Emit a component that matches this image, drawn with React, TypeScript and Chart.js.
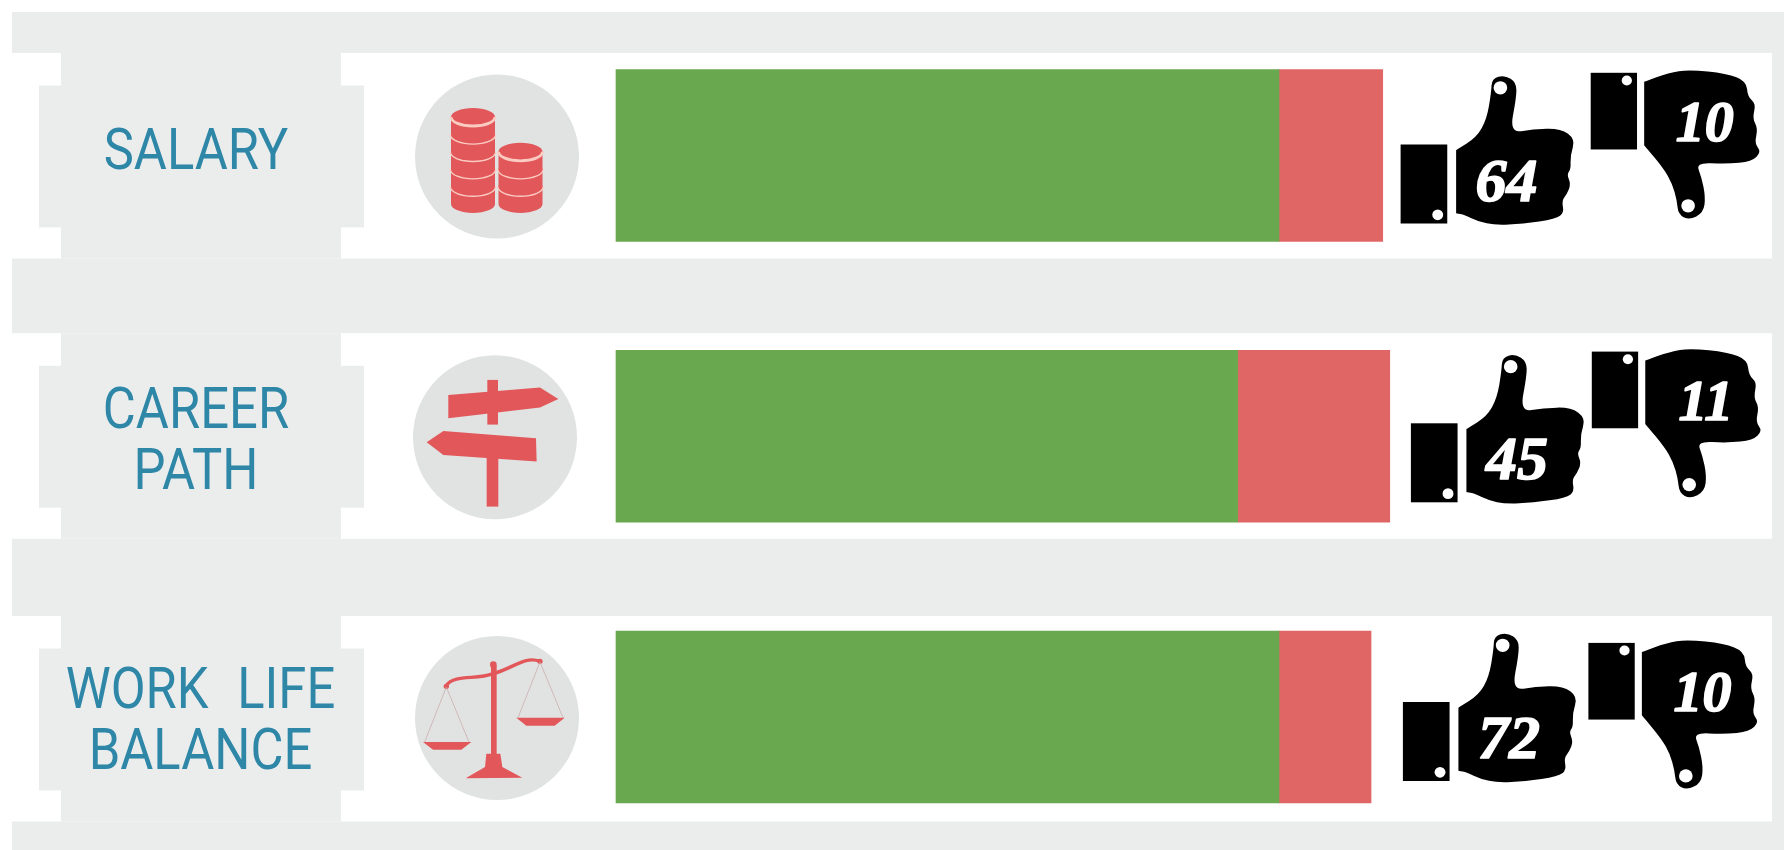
import React, { useEffect, useRef } from "react";
import { Chart, registerables } from "chart.js";

Chart.register(...registerables);

const categories: (string | string[])[] = ["SALARY", ["CAREER", "PATH"], ["WORK LIFE", "BALANCE"]];
const positiveShare = [85.0, 79.7, 85.0];
const negativeShare = [13.3, 19.5, 11.8];
const thumbsUpCounts = ["64", "45", "72"];
const thumbsDownCounts = ["10", "11", "10"];

const GREEN = "#6aa84f";
const RED = "#e06666";
const ICON_RED = "#e2585a";
const PAGE_GREY = "#ebeded";
const CIRCLE_GREY = "#e1e3e3";
const TEAL = "#2f87a8";

const thumbUpAnchors = [[1400.6, 144.5], [1410.9, 423.3], [1402.9, 702]];
const thumbDownAnchors = [[1590.7, 72.8], [1591.8, 351.6], [1588.4, 642.9]];
const iconCentreX = [497, 495, 497];
const bandShift = [0, -0.5, 1.5];
const labelShiftX = [0, 0, 5];
const labelShiftY = [-1, 8, 7];
const labelSqueeze = 0.89;
const labelCentreX = 196;

type Ctx = CanvasRenderingContext2D;

function poly(ctx: Ctx, pts: number[][]) {
  ctx.beginPath();
  pts.forEach(([x, y], i) => (i ? ctx.lineTo(x, y) : ctx.moveTo(x, y)));
  ctx.closePath();
  ctx.fill();
}

function smooth(ctx: Ctx, pts: number[][]) {
  ctx.beginPath();
  const n = pts.length;
  ctx.moveTo((pts[n - 1][0] + pts[0][0]) / 2, (pts[n - 1][1] + pts[0][1]) / 2);
  for (let i = 0; i < n; i++) {
    const next = pts[(i + 1) % n];
    ctx.quadraticCurveTo(pts[i][0], pts[i][1], (pts[i][0] + next[0]) / 2, (pts[i][1] + next[1]) / 2);
  }
  ctx.closePath();
  ctx.fill();
}

function disc(ctx: Ctx, x: number, y: number, r: number) {
  ctx.beginPath();
  ctx.arc(x, y, r, 0, Math.PI * 2);
  ctx.fill();
}

function drawCoinStack(ctx: Ctx, cx: number, bottom: number, count: number) {
  const rx = 22, ry = 9, t = 17.4;
  for (let i = 0; i < count; i++) {
    const base = bottom - ry - i * t;
    ctx.fillStyle = ICON_RED;
    ctx.beginPath();
    ctx.ellipse(cx, base, rx, ry, 0, 0, Math.PI);
    ctx.lineTo(cx - rx, base - t);
    ctx.lineTo(cx + rx, base - t);
    ctx.closePath();
    ctx.fill();
    ctx.beginPath();
    ctx.ellipse(cx, base - t, rx, ry, 0, 0, Math.PI * 2);
    ctx.fill();
    ctx.strokeStyle = "#fbcbc2";
    ctx.lineWidth = 2.8;
    ctx.beginPath();
    ctx.ellipse(cx, base - t, rx, ry, 0, 0, Math.PI);
    ctx.stroke();
  }
}

function drawCoins(ctx: Ctx, cx: number, cy: number) {
  ctx.save();
  ctx.translate(cx - 497, cy - 155.5);
  drawCoinStack(ctx, 473, 213, 5);
  drawCoinStack(ctx, 520.5, 213, 3);
  ctx.restore();
}

function drawSign(ctx: Ctx, cx: number, cy: number) {
  ctx.save();
  ctx.translate(cx, cy);
  ctx.scale(1 / 3, 1 / 3);
  ctx.translate(-345, -290);
  ctx.fillStyle = ICON_RED;
  ctx.fillRect(322, 115, 32, 134);
  ctx.fillRect(320, 345, 35, 150);
  poly(ctx, [[205, 160], [480, 138], [535, 172], [480, 198], [205, 230]]);
  poly(ctx, [[140, 302], [190, 268], [468, 290], [470, 360], [190, 340]]);
  ctx.restore();
}

function drawBalance(ctx: Ctx, cx: number, cy: number) {
  ctx.save();
  ctx.translate(cx, cy);
  ctx.scale(1 / 3, 1 / 3);
  ctx.translate(-352, -1130);
  ctx.fillStyle = ICON_RED;
  ctx.strokeStyle = ICON_RED;
  ctx.fillRect(334, 975, 17, 270);
  disc(ctx, 341, 973, 10);
  ctx.lineWidth = 10;
  ctx.beginPath();
  ctx.moveTo(199, 1036);
  ctx.bezierCurveTo(225, 1000, 290, 1020, 340, 1000);
  ctx.bezierCurveTo(400, 985, 435, 945, 481, 963);
  ctx.stroke();
  disc(ctx, 200, 1038, 8);
  disc(ctx, 481, 963, 8);
  ctx.lineWidth = 2;
  ctx.strokeStyle = "#c9a3a3";
  ctx.beginPath();
  ctx.moveTo(135, 1205); ctx.lineTo(200, 1040); ctx.lineTo(268, 1205);
  ctx.moveTo(415, 1132); ctx.lineTo(481, 965); ctx.lineTo(550, 1132);
  ctx.stroke();
  ctx.fillStyle = ICON_RED;
  poly(ctx, [[130, 1205], [275, 1205], [245, 1228], [160, 1228]]);
  poly(ctx, [[410, 1132], [555, 1132], [525, 1156], [440, 1156]]);
  poly(ctx, [[320, 1240], [362, 1240], [368, 1280], [428, 1312], [258, 1314], [316, 1280]]);
  ctx.restore();
}

function countText(ctx: Ctx, text: string, x: number, y: number, size: number) {
  ctx.fillStyle = "#fff";
  ctx.strokeStyle = "#fff";
  ctx.lineWidth = 1.6;
  ctx.lineJoin = "round";
  ctx.font = `italic bold ${size}px "Liberation Serif"`;
  ctx.textAlign = "center";
  ctx.textBaseline = "middle";
  ctx.strokeText(text, x, y);
  ctx.fillText(text, x, y);
}

function drawThumbUp(ctx: Ctx, x: number, y: number, count: string) {
  ctx.save();
  ctx.translate(x, y);
  ctx.scale(1 / 2.936, 1 / 3);
  ctx.translate(-442, -316);
  ctx.fillStyle = "#000";
  ctx.fillRect(442, 316, 137, 237);
  smooth(ctx, [[605, 333], [605, 333], [665, 295], [695, 240], [708, 160], [710, 118], [748, 108], [782, 130], [782, 175], [762, 282], [830, 270], [912, 268], [955, 300], [940, 350], [942, 390], [930, 405], [942, 435], [930, 465], [915, 485], [922, 520], [898, 540], [800, 554], [720, 558], [670, 547], [630, 527], [605, 522], [605, 522]]);
  ctx.fillStyle = "#fff";
  ctx.beginPath(); ctx.ellipse(735, 146, 20, 20, 0, 0, Math.PI * 2); ctx.fill();
  ctx.beginPath(); ctx.ellipse(551, 527, 16, 16, 0, 0, Math.PI * 2); ctx.fill();
  ctx.restore();
  countText(ctx, count, x + 106, y + 40, 62);
}

function drawThumbDown(ctx: Ctx, x: number, y: number, count: string) {
  ctx.save();
  ctx.translate(x, y);
  ctx.scale(1 / 2.936, 1 / 3);
  ctx.translate(-1001, -98);
  ctx.fillStyle = "#000";
  ctx.fillRect(1001, 98, 136, 230);
  smooth(ctx, [[1158, 125], [1158, 125], [1230, 98], [1290, 88], [1400, 100], [1458, 123], [1462, 170], [1486, 190], [1476, 235], [1492, 265], [1482, 310], [1502, 335], [1474, 364], [1400, 372], [1310, 367], [1326, 410], [1338, 470], [1332, 518], [1290, 540], [1258, 522], [1254, 480], [1240, 430], [1215, 385], [1158, 315], [1158, 315]]);
  ctx.fillStyle = "#fff";
  ctx.beginPath(); ctx.ellipse(1287, 497, 20, 20, 0, 0, Math.PI * 2); ctx.fill();
  ctx.beginPath(); ctx.ellipse(1107, 121, 15, 15, 0, 0, Math.PI * 2); ctx.fill();
  ctx.restore();
  countText(ctx, count, x + 114, y + 53, 58);
}

const backdropPlugin = {
  id: "backdrop",
  beforeDraw(chart: any) {
    const ctx: Ctx = chart.ctx;
    const yScale = chart.scales.y;
    ctx.save();
    ctx.fillStyle = "#fff";
    ctx.fillRect(0, 0, chart.width, chart.height);
    ctx.fillStyle = PAGE_GREY;
    ctx.fillRect(12, 12, chart.width - 12, chart.height - 12);
    categories.forEach((_, i) => {
      const cy = yScale.getPixelForValue(i);
      const by = cy + bandShift[i];
      ctx.fillStyle = "#fff";
      ctx.fillRect(12, by - 102.5, 1760, 205.5);
      ctx.fillStyle = PAGE_GREY;
      ctx.fillRect(61, by - 102.5, 280, 205.5);
      ctx.fillRect(39, by - 70, 325, 142);
      ctx.fillStyle = CIRCLE_GREY;
      disc(ctx, iconCentreX[i], cy + 1, 82);
    });
    drawCoins(ctx, iconCentreX[0], yScale.getPixelForValue(0));
    drawSign(ctx, iconCentreX[1], yScale.getPixelForValue(1) + 2);
    drawBalance(ctx, iconCentreX[2], yScale.getPixelForValue(2));
    ctx.restore();
  },
  afterDatasetsDraw(chart: any) {
    const ctx: Ctx = chart.ctx;
    ctx.save();
    thumbUpAnchors.forEach(([x, y], i) => drawThumbUp(ctx, x, y, thumbsUpCounts[i]));
    thumbDownAnchors.forEach(([x, y], i) => drawThumbDown(ctx, x, y, thumbsDownCounts[i]));
    ctx.restore();
  },
};

export default function App() {
  const ref = useRef<HTMLCanvasElement>(null);
  useEffect(() => {
    document.body.style.margin = "0";
    const chart = new Chart(ref.current!, {
      type: "bar",
      data: {
        labels: categories as any,
        datasets: [
          { label: "Positive", data: positiveShare, backgroundColor: GREEN, borderWidth: 0, barThickness: 172, clip: false } as any,
          { label: "Negative", data: negativeShare, backgroundColor: RED, borderWidth: 0, barThickness: 172, clip: false } as any,
        ],
      },
      options: {
        indexAxis: "y",
        responsive: false,
        animation: false,
        layout: { padding: { left: 0, right: 388, top: 155.5, bottom: 133 } },
        plugins: { legend: { display: false }, tooltip: { enabled: false } },
        scales: {
          x: { type: "linear", stacked: true, display: false, min: 0, max: 100 },
          y: {
            type: "category",
            stacked: true,
            offset: false,
            grid: { display: false, drawTicks: false },
            border: { display: false },
            afterFit(scale: any) {
              scale.width = 616;
              scale.paddingTop = 0;
              scale.paddingBottom = 0;
              if (scale.__wrapped) return;
              scale.__wrapped = true;
              const base = scale.drawLabels;
              scale.drawLabels = function (area: any) {
                const ctx: Ctx = this.ctx;
                const items = this.getLabelItems(area);
                const centre = items[0].options.translation[0];
                items.forEach((item: any, i: number) => {
                  item.options.translation[0] = centre + labelShiftX[i];
                  item.options.translation[1] = this.getPixelForTick(i) + labelShiftY[i];
                });
                ctx.save();
                (ctx as any).wordSpacing = "18px";
                ctx.translate(labelCentreX, 0);
                ctx.scale(labelSqueeze, 1);
                ctx.translate(-centre, 0);
                base.call(this, area);
                ctx.restore();
              };
            },
            ticks: {
              autoSkip: false,
              crossAlign: "center",
              padding: 282,
              color: TEAL,
              font: { family: 'Roboto, sans-serif', size: 57, lineHeight: 1.07 },
            },
          },
        },
      } as any,
      plugins: [backdropPlugin],
    });
    return () => chart.destroy();
  }, []);
  return <canvas ref={ref} width={1784} height={850} style={{ display: "block" }} />;
}
